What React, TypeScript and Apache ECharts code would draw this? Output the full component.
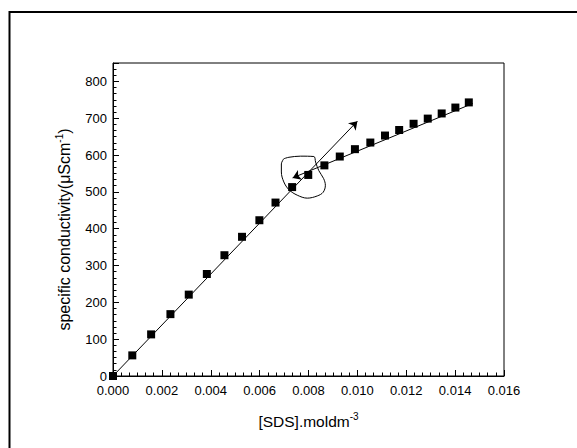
import React, { useEffect, useRef } from "react";
import * as echarts from "echarts";

// concentration of SDS (mol dm^-3)
const concentration = [0, 0.00079, 0.00156, 0.00235, 0.0031, 0.00384, 0.00456, 0.00528, 0.00599, 0.00665, 0.00733, 0.00799, 0.00865, 0.00928, 0.0099, 0.01053, 0.01113, 0.01171, 0.0123, 0.01288, 0.01345, 0.01401, 0.01456];
// specific conductivity (uS cm^-1)
const conductivity = [0, 56, 113, 168, 221, 277, 328, 378, 423, 471, 513, 546, 572, 596, 616, 634, 653, 668, 685, 699, 713, 729, 743];

// fitted lines (start -> arrow end)
const fitLine1 = [[0, 0], [0.01, 692]];
const fitLine2 = [[0.01472, 740], [0.00735, 538]];

// hand-drawn loop around the CMC break point
const loopX = [0.00699, 0.0072, 0.00767, 0.00822, 0.00829, 0.00842, 0.00862, 0.00869, 0.0086, 0.00836, 0.00795, 0.00754, 0.0072, 0.00699, 0.00689, 0.00689, 0.00699];
const loopY = [590, 594, 597, 596, 581, 558, 536, 518, 499, 489, 483, 491, 506, 527, 554, 576, 590];

const xTicks = { min: 0, max: 0.016, interval: 0.002 };
const yTicks = { min: 0, max: 850, interval: 100 };

const FONT = "'Liberation Sans', Arial, sans-serif";

export default function App() {
  const ref = useRef<HTMLDivElement>(null);
  useEffect(() => {
    if (!ref.current) return;
    const chart = echarts.init(ref.current, null, { renderer: "svg" });
    const points = concentration.map((x, i) => [x, conductivity[i]]);
    const loop = loopX.map((x, i) => [x, loopY[i]]);
    const supRich = {
      sup: { fontSize: 10, fontFamily: FONT, color: "#000", padding: [0, 0, 10, 0] },
    };
    chart.setOption({
      animation: false,
      backgroundColor: "#fff",
      textStyle: { fontFamily: FONT },
      graphic: [
        {
          type: "rect",
          shape: { x: 9.5, y: 12, width: 700, height: 700 },
          style: { fill: "none", stroke: "#000", lineWidth: 2 },
          silent: true,
        },
      ],
      grid: {
        left: 113,
        top: 63,
        right: 73,
        bottom: 72,
        show: true,
        borderColor: "#000",
        borderWidth: 1,
        backgroundColor: "transparent",
      },
      xAxis: {
        type: "value",
        min: xTicks.min,
        max: xTicks.max,
        interval: xTicks.interval,
        name: "[SDS].moldm{sup|-3}",
        nameLocation: "middle",
        nameGap: 35,
        nameTextStyle: { fontSize: 15.5, fontFamily: FONT, color: "#000", rich: supRich },
        axisLine: { show: true, lineStyle: { color: "#000", width: 1 } },
        axisTick: { show: true, inside: true, length: 6, lineStyle: { color: "#000" } },
        minorTick: { show: true, splitNumber: 6, length: 3.5, lineStyle: { color: "#000" } },
        splitLine: { show: false },
        axisLabel: {
          color: "#000",
          fontSize: 13,
          fontFamily: FONT,
          margin: 8,
          formatter: (v: number) => v.toFixed(3),
        },
      },
      yAxis: [
        {
          type: "value",
          min: yTicks.min,
          max: yTicks.max,
          interval: yTicks.interval,
          position: "left",
          name: "specific conductivity(μScm{sup|-1})",
          nameLocation: "middle",
          nameGap: 39,
          nameTextStyle: {
            fontSize: 16,
            fontFamily: FONT,
            color: "#000",
            rich: supRich,
            padding: [0, 20, 0, 0],
          },
          axisLine: { show: true, lineStyle: { color: "#000", width: 1 } },
          axisTick: { show: true, inside: true, length: 6, lineStyle: { color: "#000" } },
          splitLine: { show: false },
          axisLabel: {
            color: "#000",
            fontSize: 13,
            fontFamily: FONT,
            margin: 6,
            formatter: (v: number) => (Math.round(v) % 100 === 0 ? String(Math.round(v)) : ""),
          },
        },
        {
          type: "value",
          min: yTicks.min,
          max: yTicks.max,
          interval: yTicks.interval / 6,
          position: "left",
          axisLine: { show: false },
          axisTick: { show: true, inside: true, length: 3.5, lineStyle: { color: "#000" } },
          axisLabel: { show: false },
          splitLine: { show: false },
        },
      ],
      series: [
        {
          type: "line",
          name: "loop",
          data: loop,
          smooth: 0.35,
          showSymbol: false,
          symbol: "none",
          silent: true,
          lineStyle: { color: "#000", width: 1 },
          z: 2,
        },
        {
          type: "line",
          name: "fits",
          data: [],
          silent: true,
          z: 3,
          markLine: {
            silent: true,
            symbol: ["none", "arrow"],
            symbolSize: 8,
            precision: 5,
            label: { show: false },
            emphasis: { disabled: true },
            itemStyle: { color: "#000" },
            lineStyle: { color: "#000", width: 1, type: "solid", opacity: 1 },
            data: [
              [{ coord: fitLine1[0] }, { coord: fitLine1[1] }],
              [{ coord: fitLine2[0] }, { coord: fitLine2[1] }],
            ],
          },
        },
        {
          type: "scatter",
          name: "data",
          data: points,
          symbol: "rect",
          symbolSize: 8,
          itemStyle: { color: "#000", opacity: 1 },
          silent: true,
          z: 4,
        },
      ],
    });
    return () => chart.dispose();
  }, []);
  return (
    <div
      ref={ref}
      style={{ position: "absolute", left: 0, top: 0, width: 577, height: 448 }}
    />
  );
}
